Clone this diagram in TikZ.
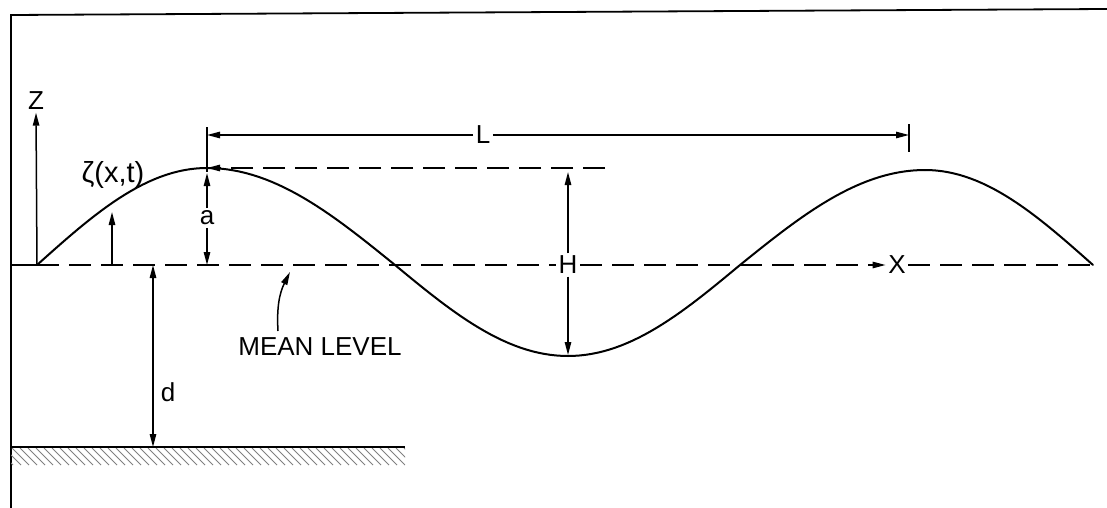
\documentclass[tikz,border=0pt]{standalone}
\usepackage{fontspec}
\setmainfont{Liberation Sans}
\usetikzlibrary{arrows.meta}
\begin{document}
\begin{tikzpicture}[x=0.5pt,y=-0.5pt, line width=0.75pt,
  >={Triangle[length=6.5pt,width=3.2pt]},
  lbl/.style={font=\fontsize{13}{15}\selectfont, inner sep=1pt},
  dsh/.style={dash pattern=on 11pt off 5pt},
  wave/.style={line width=1pt, line cap=round, variable=\t, domain=0:1, samples=30}]
\useasboundingbox (0,0) rectangle (1107,508);
% frame
\draw[line width=0.9pt] (11,508) -- (11,15) -- (1107,9);
% key points
\coordinate (O) at (37,265);
\coordinate (crest) at (207,168);
\coordinate (Hend) at (605,168);
\coordinate (trough) at (568,355);
\coordinate (R) at (1100,265);
% mean level
\draw (11,265) -- (O);
\node[lbl,fill=white] (H) at (568,265) {H};
\node[lbl,fill=white] (X) at (897,265) {X};
\draw[dsh] (O) -- (H.west);
\draw[dsh,->] (H.east) -- (X.west);
\draw[dsh] (X.east) -- (R);
% wave
\draw[wave] plot ({207-170*\t},{265-97*cos(90*\t)});
\draw[wave] plot ({207+188*\t},{265-97*cos(90*\t)});
\draw[wave] plot ({568-173*\t},{265+91*cos(90*\t)});
\draw[wave] plot ({568+172*\t},{265+91*cos(90*\t)});
\draw[wave] plot ({925-185*\t},{265-95*cos(90*\t)});
\draw[wave] plot ({925+168*\t},{265-95*cos(90*\t)});
% Z axis
\node[lbl] (Z) at (36,101) {Z};
\draw[->] (O) -- (Z.south);
% zeta
\node[lbl,font=\fontsize{14.5}{16}\selectfont] (zeta) at (113,175) {ζ(x,t)};
\coordinate (zb) at (112,265);
\coordinate (zt) at (112,212);
\draw[->] (zb) -- (zt);
% L
\node[lbl] (L) at (483,135) {L};
\coordinate (L1) at (207,135);
\coordinate (L2) at (909,135);
\draw[->] (L.west) -- (L1);
\draw[->] (L.east) -- (L2);
\draw (207,127) -- (207,172);
\draw (909,124) -- (909,152);
% crest line
\draw[dsh,->] (Hend) -- (crest);
% a
\node[lbl] (a) at (207,218) {a};
\coordinate (a1) at (207,173);
\coordinate (a2) at (207,265);
\draw[->] (a.north) -- (a1);
\draw[->] (a.south) -- (a2);
% H
\coordinate (H1) at (568,172);
\draw[->] (H.north) -- (H1);
\draw[->] (H.south) -- (trough);
% d
\coordinate (d1) at (153,265);
\coordinate (d2) at (153,447);
\draw[<->] (d1) -- (d2);
\node[lbl] (d) at (168,392) {d};
% mean level label
\node[lbl] (ml) at (320,347) {MEAN LEVEL};
\coordinate (mls) at (278,331);
\coordinate (mlt) at (290,272);
\draw[->] (mls) to[bend left=15] (mlt);
% seabed
\coordinate (s1) at (11,447);
\coordinate (s2) at (405,447);
\draw (s1) -- (s2);
\begin{scope}
\clip (11,448) rectangle (405,465);
\foreach \i in {-20,-12,...,410} \draw[gray,line width=0.4pt] (\i,448) -- (\i+17,465);
\end{scope}
\end{tikzpicture}
\end{document}
